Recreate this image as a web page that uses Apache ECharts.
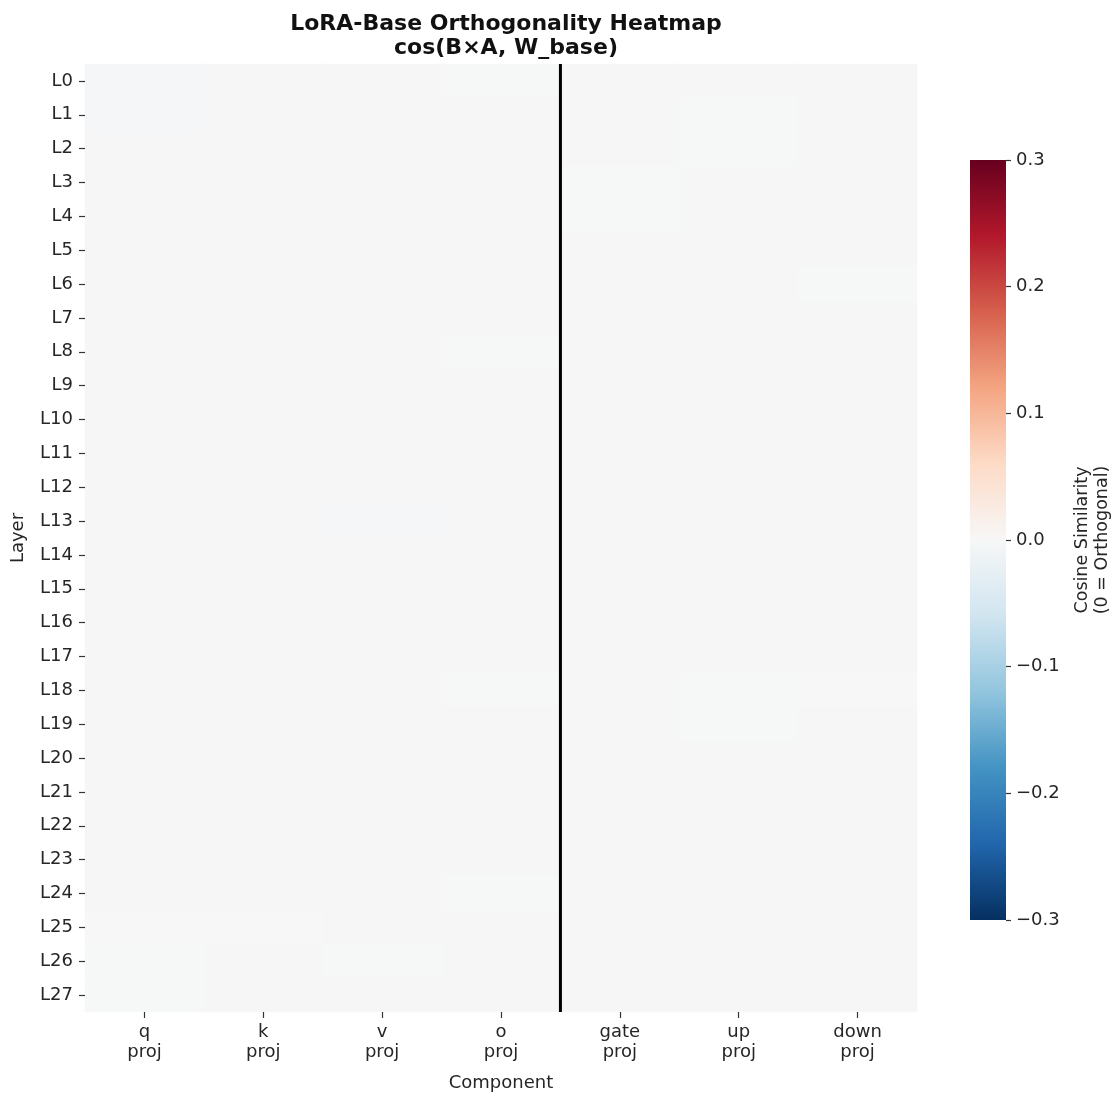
<!DOCTYPE html>
<html>
<head>
<meta charset="utf-8">
<script src="https://cdn.jsdelivr.net/npm/echarts@6/dist/echarts.min.js"></script>
<style>html,body{margin:0;padding:0;background:#fff}#c{width:1113px;height:1097px}</style>
</head>
<body>
<div id="c"></div>
<script>
const components = ['q\nproj','k\nproj','v\nproj','o\nproj','gate\nproj','up\nproj','down\nproj'];
const layers = Array.from({length:28},(_, i)=>'L'+i);
const colorbarRange = [-0.3, 0.3];
const colorbarInterval = 0.1;
// cosine similarity per component, one value per layer L0..L27
const qProj    = [-0.003,-0.003,-0.002,-0.002,-0.002,-0.002,-0.002,-0.002,-0.002,-0.002,-0.002,-0.002,-0.002,-0.002,-0.002,-0.002,-0.002,-0.002,-0.002,-0.002,-0.002,-0.002,-0.002,-0.002,-0.002,0.000,-0.001,-0.001];
const kProj    = [-0.002,-0.002,-0.002,-0.002,-0.002,-0.002,-0.002,-0.002,-0.002,-0.002,-0.002,-0.002,-0.002,-0.002,-0.002,-0.002,-0.002,-0.002,-0.002,-0.002,-0.002,-0.002,-0.002,-0.002,-0.002,0.000,-0.002,-0.002];
const vProj    = [-0.002,-0.002,-0.002,-0.002,-0.002,-0.002,-0.002,-0.002,-0.002,-0.002,-0.002,-0.002,-0.002,-0.003,-0.002,-0.002,-0.002,-0.002,-0.002,-0.002,-0.002,-0.002,-0.002,-0.002,-0.002,-0.002,-0.001,-0.002];
const oProj    = [-0.001,-0.002,-0.002,-0.002,-0.002,-0.002,-0.002,-0.002,-0.001,-0.002,-0.002,-0.002,-0.002,-0.002,-0.002,-0.002,-0.002,-0.002,-0.001,-0.002,-0.002,-0.002,-0.002,-0.002,-0.001,-0.002,-0.002,-0.002];
const gateProj = [-0.002,-0.002,-0.002,-0.001,-0.001,-0.002,-0.002,-0.002,-0.002,-0.002,-0.002,-0.002,-0.002,-0.002,-0.002,-0.002,-0.002,-0.002,-0.002,-0.002,-0.002,-0.002,-0.002,-0.002,-0.002,-0.002,-0.002,-0.002];
const upProj   = [-0.002,-0.001,-0.001,-0.002,-0.002,-0.002,-0.002,-0.002,-0.002,-0.002,-0.002,-0.002,-0.002,-0.002,-0.002,-0.002,-0.002,-0.002,-0.001,-0.001,-0.002,-0.002,-0.002,-0.002,-0.002,-0.002,-0.002,-0.002];
const downProj = [-0.002,-0.002,-0.002,-0.002,-0.002,-0.002,-0.001,-0.002,-0.002,-0.002,-0.002,-0.002,-0.002,-0.002,-0.002,-0.002,-0.002,-0.002,0.000,-0.002,-0.002,-0.002,-0.002,-0.002,-0.002,-0.002,-0.002,-0.002];
const columns = [qProj,kProj,vProj,oProj,gateProj,upProj,downProj];
const attnMlpBoundary = 3.5; // between o_proj and gate_proj

const data = [];
columns.forEach((col,x)=>col.forEach((v,y)=>data.push([x,y,v])));

const RdBu_r = ['#053061','#2166ac','#4393c3','#92c5de','#d1e5f0','#f7f7f7','#fddbc7','#f4a582','#d6604d','#b2182b','#67001f'];
const font = 'DejaVu Sans';
const txt = '#262626';
const tickFs = 18;
const hiddenLine = {show:true, onZero:false, lineStyle:{color:'#333333', width:0}};
const tick = {show:true, inside:false, length:6, lineStyle:{color:'#333333', width:1.2, opacity:1}};

const chart = echarts.init(document.getElementById('c'));
chart.setOption({
  animation:false,
  backgroundColor:'#fff',
  textStyle:{fontFamily:font},
  title:{
    text:'LoRA-Base Orthogonality Heatmap\ncos(B×A, W_base)',
    left:501, top:7, textAlign:'center',
    textStyle:{fontFamily:font,fontSize:22,fontWeight:'bold',color:'#111',lineHeight:24}
  },
  grid:[
    {left:85, top:64, width:832, height:950},
    {left:970, top:160, width:38, height:760}
  ],
  xAxis:[
    {type:'category', gridIndex:0, data:components, position:'bottom', z:5,
     axisLine:hiddenLine, splitLine:{show:false},
     axisTick:Object.assign({alignWithLabel:true}, tick),
     axisLabel:{fontSize:tickFs,color:txt,margin:10,lineHeight:20,interval:0},
     name:'Component', nameLocation:'middle', nameGap:62,
     nameTextStyle:{fontSize:18,color:txt}},
    {type:'value', gridIndex:0, min:-0.5, max:6.5, show:false, axisLine:{onZero:false}},
    {type:'value', gridIndex:1, min:0, max:1, show:false, axisLine:{onZero:false}}
  ],
  yAxis:[
    {type:'category', gridIndex:0, data:layers, inverse:true, z:5,
     axisLine:hiddenLine, splitLine:{show:false},
     axisTick:Object.assign({alignWithLabel:true}, tick),
     axisLabel:{fontSize:tickFs,color:txt,margin:12,interval:0},
     name:'Layer', nameLocation:'middle', nameGap:58, nameRotate:90,
     nameTextStyle:{fontSize:18,color:txt}},
    {type:'value', gridIndex:0, min:-0.5, max:27.5, inverse:true, show:false, axisLine:{onZero:false}},
    {type:'value', gridIndex:1, min:colorbarRange[0], max:colorbarRange[1], interval:colorbarInterval, position:'right', z:5,
     axisLine:hiddenLine, splitLine:{show:false},
     axisTick:Object.assign({}, tick, {length:5}),
     axisLabel:{fontSize:tickFs,color:txt,margin:10,
       formatter:v=>{const s=Math.abs(v).toFixed(1);return (v< -1e-9?'\u2212':'')+s;}},
     name:'Cosine Similarity\n(0 = Orthogonal)', nameLocation:'middle', nameGap:66, nameRotate:90,
     nameTextStyle:{fontSize:17.5,color:txt,lineHeight:20}}
  ],
  visualMap:{
    type:'continuous', min:colorbarRange[0], max:colorbarRange[1], seriesIndex:0, show:false,
    inRange:{color:RdBu_r}
  },
  series:[
    {type:'heatmap', xAxisIndex:0, yAxisIndex:0, data:data,
     itemStyle:{borderWidth:0}, emphasis:{disabled:true}},
    {type:'line', xAxisIndex:1, yAxisIndex:1,
     data:[[attnMlpBoundary,-0.5],[attnMlpBoundary,27.5]],
     symbol:'none', lineStyle:{color:'#000',width:3}, z:10, silent:true},
    {type:'custom', xAxisIndex:2, yAxisIndex:2, silent:true, clip:false,
     data:[[colorbarRange[0], colorbarRange[1]]],
     encode:{y:[0,1]},
     renderItem:(params, api)=>{
       const p0 = api.coord([0, api.value(0)]);
       const p1 = api.coord([1, api.value(1)]);
       const stops = RdBu_r.map((c,i)=>({offset:i/(RdBu_r.length-1), color:c}));
       return {type:'rect',
         shape:{x:p0[0], y:p1[1], width:p1[0]-p0[0], height:p0[1]-p1[1]},
         style:{fill:new echarts.graphic.LinearGradient(0,1,0,0,stops)}};
     }}
  ]
});
</script>
</body>
</html>
